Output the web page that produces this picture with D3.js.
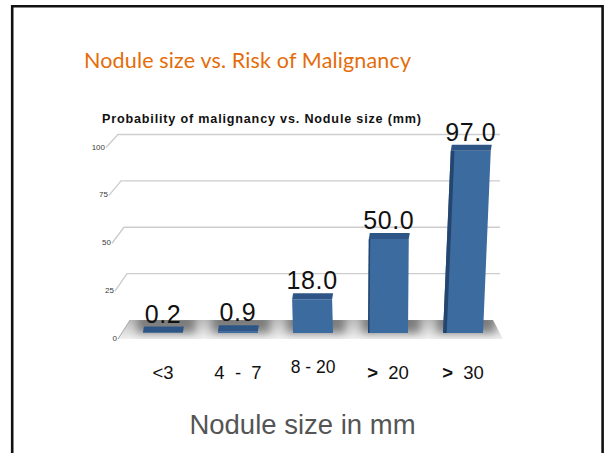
<!DOCTYPE html>
<html>
<head>
<meta charset="utf-8">
<script src="https://cdn.jsdelivr.net/npm/d3@7"></script>
<style>
  body { margin: 0; background: #fff; }
  svg { display: block; }
</style>
</head>
<body>
<div id="chart"></div>
<script>
// chart data
var categories = ["<3", "4 - 7", "8 - 20", "> 20", "> 30"];
var values = [0.2, 0.9, 18.0, 50.0, 97.0];
var yTicks = [0, 25, 50, 75, 100];

var W = 611, H = 453;

var svg = d3.select("#chart")
  .append("svg")
    .attr("width", W)
    .attr("height", H);

var defs = svg.append("defs");
defs.append("filter").attr("id", "blur")
  .attr("x", "-50%").attr("y", "-50%").attr("width", "200%").attr("height", "200%")
  .append("feGaussianBlur").attr("stdDeviation", 4);

var floorGrad = defs.append("linearGradient").attr("id", "floorGrad")
  .attr("x1", 0).attr("y1", 0).attr("x2", 0).attr("y2", 1);
floorGrad.append("stop").attr("offset", "0%").attr("stop-color", "#bdbdbd");
floorGrad.append("stop").attr("offset", "100%").attr("stop-color", "#f0f0f0");

// slide frame
svg.append("path")
  .attr("d", "M12.2,453 V6.2 H602.6 V453")
  .attr("fill", "none")
  .attr("stroke", "#111")
  .attr("stroke-width", 2.6);

// slide title
svg.append("text")
  .attr("x", 84).attr("y", 68)
  .attr("font-family", "Lato, 'Open Sans', sans-serif")
  .attr("font-size", 21.5)
  .attr("fill", "#e46c0a")
  .attr("textLength", 327)
  .text("Nodule size vs. Risk of Malignancy");

// chart title
svg.append("text")
  .attr("x", 102).attr("y", 122.5)
  .attr("font-family", "'Liberation Sans', Arial, sans-serif")
  .attr("font-weight", "bold")
  .attr("font-size", 12.6)
  .attr("fill", "#111")
  .attr("textLength", 319)
  .text("Probability of malignancy vs. Nodule size (mm)");

// scales: back wall, front edge, bars
var yBack = d3.scaleLinear().domain([0, 100]).range([320, 134.5]);
var yFront = d3.scaleLinear().domain([0, 100]).range([339, 147.5]);
var xBackLeft = d3.scaleLinear().domain([0, 100]).range([130, 118]);
var xFrontLeft = d3.scaleLinear().domain([0, 100]).range([118, 106]);
var yBar = d3.scaleLinear().domain([0, 100]).range([333, 145]);

var x = d3.scaleBand()
  .domain(categories)
  .range([125.5, 500.5])
  .paddingInner(0.467)
  .paddingOuter(0.233);

var gridRight = 500;

// floor
var floorPath = "M" + xBackLeft(0) + "," + yBack(0) + " L493," + yBack(0) +
                " L503," + yFront(0) + " L" + xFrontLeft(0) + "," + yFront(0) + "Z";
var floor = svg.append("g");
floor.append("clipPath").attr("id", "floorClip")
  .append("path").attr("d", floorPath);
floor.append("path")
  .attr("d", floorPath)
  .attr("fill", "url(#floorGrad)");

// bar shadows on the floor
floor.append("g").attr("clip-path", "url(#floorClip)")
  .selectAll("rect")
  .data(categories)
  .enter()
  .append("rect")
    .attr("x", function(d) { return x(d) - 6; })
    .attr("y", yBack(0) - 6)
    .attr("width", x.bandwidth() + 18)
    .attr("height", yFront(0) - yBack(0))
    .attr("fill", "#555")
    .attr("opacity", 0.65)
    .attr("filter", "url(#blur)");

// gridlines (back wall) with diagonal ticks
var grid = svg.append("g");
grid.selectAll(".gl")
  .data(yTicks.filter(function(t) { return t > 0; }))
  .enter()
  .append("path")
    .attr("class", "gl")
    .attr("d", function(t) {
      return "M" + xFrontLeft(t) + "," + yFront(t) +
             " L" + xBackLeft(t) + "," + yBack(t) +
             " L" + gridRight + "," + yBack(t);
    })
    .attr("fill", "none")
    .attr("stroke", "#cdcdcd")
    .attr("stroke-width", 1.4);

grid.append("path")
  .attr("d", "M" + xFrontLeft(0) + "," + yFront(0) + " L" + xBackLeft(0) + "," + yBack(0))
  .attr("stroke", "#aaa")
  .attr("stroke-width", 1);

grid.selectAll(".tl")
  .data(yTicks)
  .enter()
  .append("text")
    .attr("class", "tl")
    .attr("x", function(t) { return xFrontLeft(t) - 1; })
    .attr("y", function(t) { return yFront(t) + 2; })
    .attr("text-anchor", "end")
    .attr("font-family", "'Liberation Sans', Arial, sans-serif")
    .attr("font-size", 8)
    .attr("fill", "#3a3a3a")
    .text(function(t) { return t; });

// bars
function lean(d, v) {
  var xc = x(d) + x.bandwidth() / 2;
  return 0.000457 * (xc - 370) * (yBar(0) - yBar(v));
}
var depth = 6;

var bars = svg.append("g")
  .selectAll("g")
  .data(categories)
  .enter()
  .append("g");

bars.append("path")
  .attr("d", function(d, i) {
    var x0 = x(d), x1 = x(d) + x.bandwidth(), l = lean(d, values[i]);
    return "M" + x0 + "," + yBar(0) + " L" + x1 + "," + yBar(0) +
           " L" + (x1 + l) + "," + yBar(values[i]) + " L" + (x0 + l) + "," + yBar(values[i]) + "Z";
  })
  .attr("fill", "#3c6ba0");

// darker left side strip
bars.append("path")
  .attr("d", function(d, i) {
    var xc = x(d) + x.bandwidth() / 2;
    var w = Math.max(0, (xc - 340) * 0.03);
    var x0 = x(d), l = lean(d, values[i]);
    return "M" + x0 + "," + yBar(0) + " L" + (x0 + w) + "," + yBar(0) +
           " L" + (x0 + w + l) + "," + yBar(values[i]) + " L" + (x0 + l) + "," + yBar(values[i]) + "Z";
  })
  .attr("fill", "#23456e");

// top face
bars.append("path")
  .attr("d", function(d, i) {
    var x0 = x(d), x1 = x(d) + x.bandwidth(), l = lean(d, values[i]);
    var yt = yBar(values[i]);
    return "M" + (x0 + l) + "," + yt + " L" + (x1 + l) + "," + yt +
           " L" + (x1 + l + 1) + "," + (yt - depth) + " L" + (x0 + l + 1) + "," + (yt - depth) + "Z";
  })
  .attr("fill", "#2d5686");

// value labels
bars.append("text")
  .attr("x", function(d, i) { return x(d) + x.bandwidth() / 2 + lean(d, values[i]); })
  .attr("y", function(d, i) { return yBar(values[i]) - depth - 4; })
  .attr("text-anchor", "middle")
  .attr("font-family", "'Liberation Sans', Arial, sans-serif")
  .attr("font-size", 25)
  .attr("letter-spacing", 0.6)
  .attr("fill", "#111")
  .text(function(d, i) { return d3.format(".1f")(values[i]); });

// category labels
var catLabels = svg.append("g")
  .selectAll("text")
  .data(categories)
  .enter()
  .append("text")
    .attr("x", function(d) { return x(d) + x.bandwidth() / 2; })
    .attr("y", function(d, i) { return i === 2 ? 372.5 : 378.5; })
    .attr("text-anchor", "middle")
    .attr("font-family", "'Liberation Sans', Arial, sans-serif")
    .attr("font-size", function(d, i) { return i === 2 ? 17.5 : 18.5; })
    .attr("fill", "#111")
    .style("white-space", "pre");

catLabels.each(function(d, i) {
  var t = d3.select(this);
  if (d.charAt(0) === ">") {
    t.append("tspan").attr("font-weight", "bold").text(">");
    t.append("tspan").text(d.slice(1).replace(" ", "  "));
  } else if (i === 1) {
    t.text(d.replace(/ /g, "  "));
  } else {
    t.text(d);
  }
});

// axis title
svg.append("text")
  .attr("x", 302.5).attr("y", 434)
  .attr("text-anchor", "middle")
  .attr("font-family", "'Liberation Sans', Arial, sans-serif")
  .attr("font-size", 27.5)
  .attr("fill", "#555")
  .text("Nodule size in mm");
</script>
</body>
</html>
